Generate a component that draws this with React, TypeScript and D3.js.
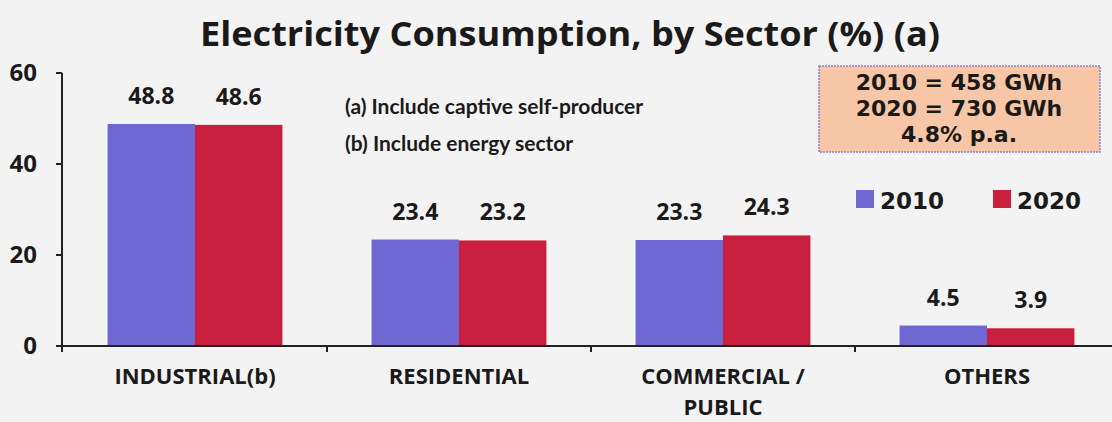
import React from "react";
import * as d3 from "d3";

const categories = ["INDUSTRIAL(b)", "RESIDENTIAL", "COMMERCIAL /\nPUBLIC", "OTHERS"];
const series = ["2010", "2020"];
const values2010 = [48.8, 23.4, 23.3, 4.5];
const values2020 = [48.6, 23.2, 24.3, 3.9];
const yTicks = [0, 20, 40, 60];
const notes = ["(a) Include captive self-producer", "(b) Include energy sector"];
const boxLines = ["2010 = 458 GWh", "2020 = 730 GWh", "4.8% p.a."];
const title = "Electricity Consumption, by Sector (%) (a)";

const colors = ["#6f68d2", "#c81f3e"];
const OPEN = "'Open Sans', Lato, sans-serif";
const LATO = "Lato, 'Open Sans', sans-serif";
const DEJA = "'DejaVu Sans', Verdana, sans-serif";

export default function App() {
  const W = 1112, H = 422;
  const y = d3.scaleLinear().domain([0, 60]).range([346, 73]);
  const x0 = d3.scaleBand<string>().domain(categories).range([63, 1119]).padding(0);
  const x1 = d3.scaleBand<string>().domain(series).range([0, x0.bandwidth()]).paddingInner(0).paddingOuter(0.51);
  const data = [values2010, values2020];
  const fmt = d3.format(".1f");
  const seps = categories.slice(1).map((c) => x0(c) as number);

  return (
    <svg width={W} height={H} style={{ display: "block", position: "absolute", left: 0, top: 0, background: "#f4f3f3" }}>
      <rect x={0} y={0} width={W} height={H} fill="#f4f3f3" />
      <text x={200} y={46} textLength={740} lengthAdjust="spacingAndGlyphs" fontFamily={OPEN} fontWeight={700} fontSize={34} fill="#1a1a1a">{title}</text>

      {categories.map((c, ci) =>
        series.map((s, si) => {
          const v = data[si][ci];
          const bx = (x0(c) as number) + (x1(s) as number);
          return (
            <g key={c + s}>
              <rect x={bx} y={y(v)} width={x1.bandwidth()} height={y(0) - y(v)} fill={colors[si]} />
              <text x={bx + x1.bandwidth() / 2} y={y(v) - 20} textAnchor="middle" fontFamily={OPEN} fontWeight={700} fontSize={23} fill="#1a1a1a">{fmt(v)}</text>
            </g>
          );
        })
      )}

      {/* axes */}
      <line x1={62} x2={1112} y1={y(0)} y2={y(0)} stroke="#222" strokeWidth={2} />
      <line x1={62} x2={62} y1={y(60)} y2={y(0) + 6} stroke="#222" strokeWidth={2} />
      {yTicks.map((t) => (
        <g key={t}>
          <line x1={56} x2={62} y1={y(t)} y2={y(t)} stroke="#222" strokeWidth={2} />
          <text x={37} y={y(t) + 8} textAnchor="end" fontFamily={OPEN} fontWeight={700} fontSize={24} fill="#1a1a1a">{t}</text>
        </g>
      ))}
      {seps.map((sx, i) => (
        <line key={i} x1={sx} x2={sx} y1={y(0)} y2={y(0) + 6} stroke="#222" strokeWidth={2} />
      ))}
      {categories.map((c) => {
        const lines = c.split("\n");
        const cx = (x0(c) as number) + x0.bandwidth() / 2;
        return (
          <g key={c}>
            {lines.map((l, i) => (
              <text key={i} x={cx} y={384 + i * 31} textAnchor="middle" fontFamily={OPEN} fontWeight={700} fontSize={22} fill="#1a1a1a">{l}</text>
            ))}
          </g>
        );
      })}

      {notes.map((n, i) => (
        <text key={n} x={345} y={114 + i * 37} fontFamily={LATO} fontWeight={700} fontSize={21} fill="#1a1a1a">{n}</text>
      ))}

      <rect x={819} y={66} width={281} height={86} fill="#f7c6a6" stroke="#8a80d0" strokeWidth={1.5} strokeDasharray="2 1" />
      {boxLines.map((l, i) => (
        <text key={l} x={959} y={90 + i * 26} textAnchor="middle" fontFamily={DEJA} fontWeight={700} fontSize={22} fill="#1a1a1a">{l}</text>
      ))}

      {series.map((s, i) => (
        <g key={s}>
          <rect x={856 + i * 137} y={190} width={18} height={18} fill={colors[i]} />
          <text x={880 + i * 137} y={209} fontFamily={DEJA} fontWeight={700} fontSize={23} fill="#1a1a1a">{s}</text>
        </g>
      ))}
    </svg>
  );
}
